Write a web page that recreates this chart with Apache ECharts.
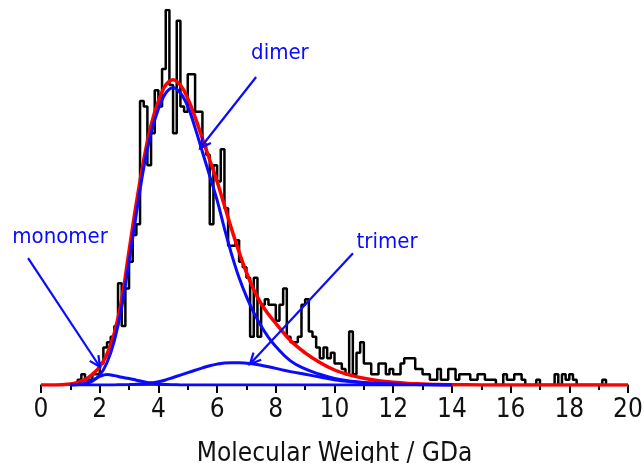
<!DOCTYPE html>
<html>
<head>
<meta charset="utf-8">
<script src="https://cdn.jsdelivr.net/npm/echarts@6/dist/echarts.min.js"></script>
<style>
  html, body { margin: 0; padding: 0; background: #fff; }
  #chart { width: 644px; height: 463px; }
</style>
</head>
<body>
<div id="chart"></div>
<script>
// Histogram of particle molecular weights (GDa), 0.125 GDa bins starting at 1.0
const binStart = 1.0;
const binWidth = 0.125;
const counts = [
  0, 0, 1, 2, 1, 1, 2, 2,            // 1.0 - 2.0
  4, 7, 8, 9, 11, 19, 11, 18,        // 2.0 - 3.0
  23, 28, 30, 53, 52, 41, 47, 55,    // 3.0 - 4.0
  52, 59, 70, 56, 47, 68, 52, 51,    // 4.0 - 5.0
  58, 58, 51, 51, 45, 43, 30, 41,    // 5.0 - 6.0
  38, 44, 33, 26, 26, 27, 23, 22,    // 6.0 - 7.0
  20, 9, 20, 9, 15, 16, 15, 15,      // 7.0 - 8.0
  12, 15, 18, 9, 8, 8, 9, 15,        // 8.0 - 9.0
  16, 10, 9, 7, 5, 7, 5, 6,          // 9.0 - 10.0
  4, 4, 3, 2, 10, 2, 6, 8,           // 10.0 - 11.0
  4, 4, 2, 2, 4, 4, 2, 3,            // 11.0 - 12.0
  2, 2, 4, 5, 5, 5, 3, 3,            // 12.0 - 13.0
  2, 2, 1, 1, 3, 1, 1, 3,            // 13.0 - 14.0
  3, 1, 2, 2, 2, 1, 1, 2,            // 14.0 - 15.0
  2, 1, 1, 1, 0, 0, 2, 1,            // 15.0 - 16.0
  1, 2, 2, 1, 0, 0, 0, 1,            // 16.0 - 17.0
  0, 0, 0, 0, 2, 0, 2, 1,            // 17.0 - 18.0
  2, 1, 0, 0, 0, 0, 0, 0,            // 18.0 - 19.0
  0, 1                               // 19.0 - 19.25
];

// Fitted curves sampled along molecular weight (GDa)
const xGrid = [
  0, 0.5,
  1, 1.25, 1.5, 1.75, 2, 2.25, 2.5, 2.75, 3, 3.25, 3.5, 3.75, 4, 4.25,
  4.5, 4.75, 5, 5.25, 5.5, 5.75, 6, 6.25, 6.5, 6.75, 7, 7.25, 7.5, 7.75, 8,
  8.5, 9, 9.5, 10, 10.5, 11, 11.5, 12, 12.5, 13, 13.5, 14,
  15, 16, 17, 18, 19, 20
];
const totalFit = [
  0, 0,
  0.2, 0.5, 1.0, 2.0, 3.4, 5.8, 9.7, 16, 25, 34, 42, 48.5, 53, 56,
  57, 56, 53.5, 50, 46, 42, 38, 33.5, 29, 24.8, 21, 17.8, 15.2, 13.2, 11.5,
  8.3, 6.0, 4.2, 2.8, 1.9, 1.25, 0.8, 0.5, 0.3, 0.2, 0.1, 0.06,
  0.02, 0, 0, 0, 0, 0
];
const monomer = [
  null, null,
  0, 0.1, 0.35, 0.9, 1.6, 1.95, 1.75, 1.45, 1.2, 0.9, 0.6, 0.35, 0.2, 0.1,
  0.05, 0.02, 0, 0, 0, 0, 0, 0, 0, 0, 0, 0, 0, 0, 0,
  0, 0, 0, 0, 0, 0, 0, 0, 0, 0, 0, 0,
  null, null, null, null, null, null
];
const dimer = [
  null, null,
  0, 0.05, 0.2, 0.7, 1.8, 4.2, 8.3, 14.5, 23, 32, 40.5, 47, 51.5, 54.5,
  55.5, 54.5, 52, 48, 43.5, 39, 34.5, 29.2, 24.3, 20, 16.5, 13.5, 11, 8.9, 7.2,
  4.5, 3.0, 2.0, 1.2, 0.75, 0.45, 0.28, 0.17, 0.1, 0.06, 0.03, 0,
  null, null, null, null, null, null
];
const trimer = [
  null, null,
  0, 0, 0, 0, 0, 0, 0.02, 0.04, 0.08, 0.14, 0.25, 0.4, 0.6, 0.95,
  1.4, 1.85, 2.3, 2.75, 3.2, 3.6, 3.9, 4.1, 4.15, 4.15, 4.05, 3.9, 3.7, 3.4, 3.1,
  2.5, 2.0, 1.5, 1.0, 0.65, 0.4, 0.25, 0.15, 0.1, 0.05, 0.02, 0,
  null, null, null, null, null, null
];

const xTickLabels = ['0', '2', '4', '6', '8', '10', '12', '14', '16', '18', '20'];
const axisTitle = 'Molecular Weight / GDa';

// Annotation labels with arrows, anchored in data coordinates
const annotations = [
  { text: 'monomer', label: [0.65, 27.6], tail: [-0.44, 23.7], head: [2.01, 3.36] },
  { text: 'dimer',   label: [8.14, 62.0], tail: [7.33, 57.5],  head: [5.42, 44.2] },
  { text: 'trimer',  label: [11.79, 26.7], tail: [10.63, 24.6], head: [7.12, 3.9] }
];

const histData = counts.map((c, i) => [binStart + i * binWidth, c]);
histData.push([binStart + counts.length * binWidth, 0]);

const pair = (ys) => xGrid.map((x, i) => [x, ys[i]]);

const BLUE = '#0a0aff';
const RED = '#ff0000';
const FONT = '"DejaVu Sans Condensed", "DejaVu Sans", sans-serif';

const chart = echarts.init(document.getElementById('chart'), null, { renderer: 'canvas' });

chart.setOption({
  animation: false,
  backgroundColor: '#ffffff',
  grid: { left: 41, right: 16, top: 10, bottom: 78, containLabel: false, outerBoundsMode: 'none' },
  xAxis: {
    type: 'value',
    min: 0,
    max: 20,
    interval: 2,
    name: axisTitle,
    nameLocation: 'middle',
    nameGap: 56,
    nameTextStyle: { fontFamily: FONT, fontSize: 26, color: '#111' },
    axisLine: { show: true, onZero: false, lineStyle: { color: '#000', width: 1.5 } },
    axisTick: { show: true, inside: false, length: 8, lineStyle: { color: '#000', width: 2 } },
    minorTick: { show: true, splitNumber: 2, length: 5, lineStyle: { color: '#000', width: 2 } },
    splitLine: { show: false },
    axisLabel: {
      margin: 12,
      fontFamily: FONT,
      fontSize: 26,
      color: '#111',
      formatter: (v) => xTickLabels[Math.round(v / 2)]
    }
  },
  yAxis: {
    type: 'value',
    min: 0,
    max: 70,
    show: false,
    splitLine: { show: false }
  },
  series: [
    {
      name: 'histogram',
      type: 'line',
      step: 'end',
      data: histData,
      symbol: 'none',
      lineStyle: { color: '#000', width: 2.5 },
      z: 2
    },
    {
      name: 'total fit',
      type: 'line',
      smooth: 0.4,
      data: pair(totalFit),
      symbol: 'none',
      lineStyle: { color: RED, width: 3.5 },
      z: 3
    },
    {
      name: 'monomer',
      type: 'line',
      smooth: 0.4,
      data: pair(monomer),
      symbol: 'none',
      lineStyle: { color: BLUE, width: 3 },
      z: 4
    },
    {
      name: 'dimer',
      type: 'line',
      smooth: 0.4,
      data: pair(dimer),
      symbol: 'none',
      lineStyle: { color: BLUE, width: 3 },
      z: 4
    },
    {
      name: 'trimer',
      type: 'line',
      smooth: 0.4,
      data: pair(trimer),
      symbol: 'none',
      lineStyle: { color: BLUE, width: 3 },
      z: 4
    }
  ]
});

// Draw annotation labels and open-headed arrows
function toPx(pt) {
  return chart.convertToPixel({ gridIndex: 0 }, pt);
}
const graphics = [];
annotations.forEach((a) => {
  const lp = toPx(a.label);
  const tp = toPx(a.tail);
  const hp = toPx(a.head);
  graphics.push({
    type: 'text',
    x: lp[0], y: lp[1],
    style: {
      text: a.text,
      fill: BLUE,
      font: '22px ' + FONT,
      textAlign: 'center',
      textVerticalAlign: 'middle'
    },
    z: 10
  });
  graphics.push({
    type: 'line',
    shape: { x1: tp[0], y1: tp[1], x2: hp[0], y2: hp[1] },
    style: { stroke: BLUE, lineWidth: 2.2 },
    z: 10
  });
  const ang = Math.atan2(tp[1] - hp[1], tp[0] - hp[0]);
  const len = 12, spread = 0.45;
  const p1 = [hp[0] + len * Math.cos(ang + spread), hp[1] + len * Math.sin(ang + spread)];
  const p2 = [hp[0] + len * Math.cos(ang - spread), hp[1] + len * Math.sin(ang - spread)];
  graphics.push({
    type: 'polyline',
    shape: { points: [p1, hp, p2] },
    style: { stroke: BLUE, lineWidth: 2.2, fill: null },
    z: 10
  });
});
chart.setOption({ graphic: graphics });
</script>
</body>
</html>
